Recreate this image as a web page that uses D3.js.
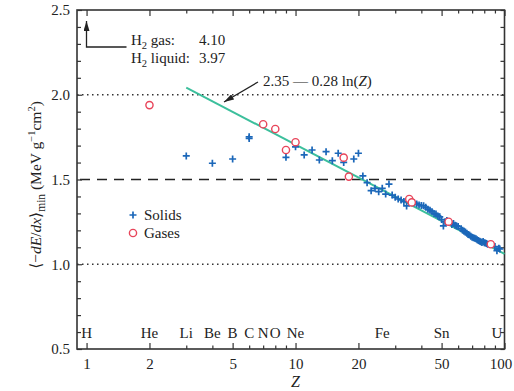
<!DOCTYPE html>
<html>
<head>
<meta charset="utf-8">
<script src="https://cdn.jsdelivr.net/npm/d3@7"></script>
<style>
body { margin: 0; background: #fff; }
text { font-family: "Liberation Serif", "DejaVu Serif", serif; fill: #222; }
</style>
</head>
<body>
<svg id="chart" width="514" height="391"></svg>
<script>
// solids (and liquids): atomic number Z, minimum dE/dx
var solidZ = [3, 4, 5, 6, 6, 9, 10, 11, 12, 13, 14, 15, 16, 17, 19, 20, 21, 22, 23, 24, 25, 26, 27, 28,
    29, 30, 31, 32, 33, 34, 35, 37, 38, 39, 40, 41, 42, 43, 44, 45, 46, 47, 48, 49, 50, 51, 52, 53,
    55, 56, 57, 58, 59, 60, 62, 63, 64, 65, 66, 67, 68, 69, 70, 71, 72, 73, 74, 75, 76, 77, 78, 79,
    80, 81, 82, 83, 90, 92, 94, 95]
var solidV = [1.639, 1.596, 1.621, 1.752, 1.742, 1.631, 1.693, 1.645, 1.674, 1.615, 1.664, 1.611, 1.655, 1.601, 1.621, 1.655, 1.521, 1.481, 1.434, 1.448, 1.428, 1.448, 1.414, 1.473,
    1.408, 1.395, 1.385, 1.379, 1.370, 1.344, 1.379, 1.363, 1.356, 1.350, 1.346, 1.345, 1.336, 1.325, 1.318, 1.310, 1.300, 1.296, 1.285, 1.280, 1.264, 1.226, 1.251, 1.258,
    1.248, 1.235, 1.241, 1.230, 1.226, 1.222, 1.210, 1.200, 1.195, 1.190, 1.183, 1.175, 1.172, 1.165, 1.160, 1.157, 1.153, 1.150, 1.145, 1.140, 1.135, 1.133, 1.128, 1.134,
    1.127, 1.125, 1.122, 1.118, 1.104, 1.080, 1.094, 1.090]

// gases
var gasZ = [2, 7, 8, 9, 10, 17, 18, 35, 36, 54, 86]
var gasV = [1.939, 1.826, 1.798, 1.674, 1.720, 1.629, 1.517, 1.385, 1.365, 1.251, 1.118]

// element names along the bottom
var elemNames = ['H', 'He', 'Li', 'Be', 'B', 'C', 'N', 'O', 'Ne', 'Fe', 'Sn', 'U']
var elemZ = [1, 2, 3, 4, 5, 6, 7, 8, 10, 26, 50, 92]

// ticks
var xMajor = [1, 2, 5, 10, 20, 50, 100]
var xMinor = [3, 4, 6, 7, 8, 9, 30, 40, 60, 70, 80, 90]
var yMajor = [0.5, 1.0, 1.5, 2.0, 2.5]
var yMinor = [0.6, 0.7, 0.8, 0.9, 1.1, 1.2, 1.3, 1.4, 1.6, 1.7, 1.8, 1.9, 2.1, 2.2, 2.3, 2.4]

// fit 2.35 - 0.28 ln(Z), drawn from Z=3 to 100
var fitA = 2.35, fitB = 0.28
var fitZ = [3, 100]

var box = { l: 77, r: 504.5, t: 10, b: 349 }

var svg = d3.select('#chart')

var x = d3.scaleLog().domain([0.9, 100]).range([box.l, box.r])
var y = d3.scaleLinear().domain([0.5, 2.5]).range([box.b, box.t])

var defs = svg.append('defs')
defs.append('marker')
    .attr('id', 'head')
    .attr('viewBox', '0 0 10 6')
    .attr('refX', 10).attr('refY', 3)
    .attr('markerWidth', 10).attr('markerHeight', 6)
    .attr('markerUnits', 'userSpaceOnUse')
    .attr('orient', 'auto')
    .append('path')
    .attr('d', 'M0,0L10,3L0,6Z')
    .attr('fill', '#222')

// reference lines
svg.selectAll('line.dot')
    .data([2.0, 1.0])
    .join('line')
    .attr('class', 'dot')
    .attr('x1', box.l).attr('x2', box.r)
    .attr('y1', d => y(d)).attr('y2', d => y(d))
    .attr('stroke', '#333')
    .attr('stroke-width', 1.5)
    .attr('stroke-dasharray', '1.5,3.5')

svg.append('line')
    .attr('x1', box.l + 3).attr('x2', box.r)
    .attr('y1', y(1.5)).attr('y2', y(1.5))
    .attr('stroke', '#222')
    .attr('stroke-width', 1.5)
    .attr('stroke-dasharray', '10,7')

// axes: ticks point inward
function styleAxis(g) {
    g.select('.domain').remove()
    g.selectAll('line').attr('stroke', '#333').attr('stroke-width', 1.2)
    g.selectAll('text')
        .attr('fill', '#222')
        .style('font-family', '"Liberation Serif", serif')
        .style('font-size', '15px')
}

svg.append('g')
    .attr('transform', 'translate(0,' + box.b + ')')
    .call(d3.axisBottom(x).tickValues(xMajor).tickFormat(d3.format('d')).tickSizeInner(-6).tickSizeOuter(0).tickPadding(9))
    .call(styleAxis)
    .selectAll('text')
    .filter(d => d === 100)
    .attr('dx', -4)
svg.append('g')
    .attr('transform', 'translate(0,' + box.b + ')')
    .call(d3.axisBottom(x).tickValues(xMinor).tickFormat('').tickSizeInner(-3.5).tickSizeOuter(0))
    .call(styleAxis)
svg.append('g')
    .attr('transform', 'translate(0,' + box.t + ')')
    .call(d3.axisTop(x).tickValues(xMajor).tickFormat('').tickSizeInner(-6).tickSizeOuter(0))
    .call(styleAxis)
svg.append('g')
    .attr('transform', 'translate(0,' + box.t + ')')
    .call(d3.axisTop(x).tickValues(xMinor).tickFormat('').tickSizeInner(-3.5).tickSizeOuter(0))
    .call(styleAxis)

svg.append('g')
    .attr('transform', 'translate(' + box.l + ',0)')
    .call(d3.axisLeft(y).tickValues(yMajor).tickFormat(d3.format('.1f')).tickSizeInner(-5).tickSizeOuter(0).tickPadding(7))
    .call(styleAxis)
svg.append('g')
    .attr('transform', 'translate(' + box.l + ',0)')
    .call(d3.axisLeft(y).tickValues(yMinor).tickFormat('').tickSizeInner(-4).tickSizeOuter(0))
    .call(styleAxis)
svg.append('g')
    .attr('transform', 'translate(' + box.r + ',0)')
    .call(d3.axisRight(y).tickValues(yMajor.concat(yMinor)).tickFormat('').tickSizeInner(-4).tickSizeOuter(0))
    .call(styleAxis)

// frame
svg.append('rect')
    .attr('x', box.l).attr('y', box.t)
    .attr('width', box.r - box.l).attr('height', box.b - box.t)
    .attr('fill', 'none')
    .attr('stroke', '#333')
    .attr('stroke-width', 1.6)

// fit line
var line = d3.line()
    .x(d => x(d))
    .y(d => y(fitA - fitB * Math.log(d)))
svg.append('path')
    .attr('d', line(fitZ))
    .attr('fill', 'none')
    .attr('stroke', '#3cbf9c')
    .attr('stroke-width', 2)

// solids
var plus = 'M-3.5,0H3.5M0,-3.5V3.5'
svg.selectAll('path.solid')
    .data(solidZ)
    .join('path')
    .attr('class', 'solid')
    .attr('d', plus)
    .attr('transform', (d, i) => 'translate(' + x(d) + ',' + y(solidV[i]) + ')')
    .attr('stroke', '#1b67b9')
    .attr('stroke-width', 1.7)

// gases
svg.selectAll('circle.gas')
    .data(gasZ)
    .join('circle')
    .attr('class', 'gas')
    .attr('cx', d => x(d))
    .attr('cy', (d, i) => y(gasV[i]))
    .attr('r', 3.6)
    .attr('fill', '#fff')
    .attr('stroke', '#e8455a')
    .attr('stroke-width', 1.4)

// element labels
svg.selectAll('text.elem')
    .data(elemZ)
    .join('text')
    .attr('class', 'elem')
    .attr('x', d => x(d))
    .attr('y', box.b - 11.5)
    .attr('text-anchor', 'middle')
    .style('font-size', '15px')
    .text((d, i) => elemNames[i])

// x title
svg.append('text')
    .attr('x', x(10)).attr('y', 387)
    .attr('text-anchor', 'middle')
    .style('font-size', '16px')
    .style('font-style', 'italic')
    .text('Z')

// y title
var yt = svg.append('text')
    .attr('transform', 'translate(41,185) rotate(-90)')
    .attr('text-anchor', 'middle')
    .style('font-size', '15.5px')
yt.append('tspan').text('\u27E8\u2212')
yt.append('tspan').style('font-style', 'italic').text('dE')
yt.append('tspan').text('/')
yt.append('tspan').style('font-style', 'italic').text('dx')
yt.append('tspan').text('\u27E9')
yt.append('tspan').attr('dy', 4).style('font-size', '11.5px').text('min')
yt.append('tspan').attr('dy', -4).text(' (MeV g')
yt.append('tspan').attr('dy', -6).style('font-size', '10.5px').text('\u22121')
yt.append('tspan').attr('dy', 6).text('cm')
yt.append('tspan').attr('dy', -6).style('font-size', '10.5px').text('2')
yt.append('tspan').attr('dy', 6).text(')')

// H2 note with arrow
svg.append('path')
    .attr('d', 'M126.5,47H86.5V21')
    .attr('fill', 'none')
    .attr('stroke', '#222')
    .attr('stroke-width', 1.3)
    .attr('marker-end', 'url(#head)')

function h2(yPos, word, val) {
    var t = svg.append('text').attr('x', 131).attr('y', yPos).style('font-size', '15px')
    t.append('tspan').text('H')
    t.append('tspan').attr('dy', 4).style('font-size', '10.5px').text('2')
    t.append('tspan').attr('dy', -4).text(' ' + word)
    svg.append('text').attr('x', 199).attr('y', yPos).style('font-size', '15px').text(val)
}
h2(45, 'gas:', '4.10')
h2(63, 'liquid:', '3.97')

// fit note with arrow
svg.append('line')
    .attr('x1', 258).attr('y1', 82)
    .attr('x2', 224).attr('y2', 102)
    .attr('stroke', '#222')
    .attr('stroke-width', 1.3)
    .attr('marker-end', 'url(#head)')
var ft = svg.append('text').attr('x', 263).attr('y', 86).style('font-size', '15px')
ft.append('tspan').text('2.35 \u2014 0.28 ln(')
ft.append('tspan').style('font-style', 'italic').text('Z')
ft.append('tspan').text(')')

// legend
svg.append('path')
    .attr('d', plus)
    .attr('transform', 'translate(133,215)')
    .attr('stroke', '#1b67b9')
    .attr('stroke-width', 1.7)
svg.append('text').attr('x', 144).attr('y', 220).style('font-size', '15px').text('Solids')
svg.append('circle')
    .attr('cx', 133).attr('cy', 233).attr('r', 3.6)
    .attr('fill', '#fff')
    .attr('stroke', '#e8455a')
    .attr('stroke-width', 1.4)
svg.append('text').attr('x', 144).attr('y', 238).style('font-size', '15px').text('Gases')
</script>
</body>
</html>
